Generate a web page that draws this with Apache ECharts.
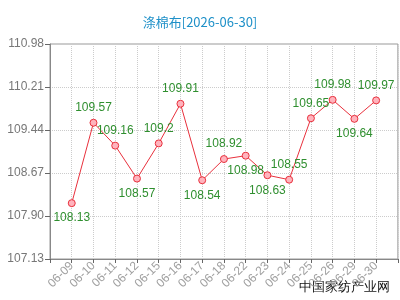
<!DOCTYPE html>
<html>
<head>
<meta charset="utf-8">
<script src="https://cdn.jsdelivr.net/npm/echarts@6/dist/echarts.min.js"></script>
<style>
  html, body { margin: 0; padding: 0; background: #fff; }
  #chart { width: 400px; height: 300px; }
</style>
</head>
<body>
<div id="chart"></div>
<script>
// 日期 / 价格
const dates = ['06-09', '06-10', '06-11', '06-12', '06-15', '06-16', '06-17', '06-18',
  '06-22', '06-23', '06-24', '06-25', '06-26', '06-29', '06-30']
const prices = [108.13, 109.57, 109.16, 108.57, 109.2, 109.91, 108.54, 108.92,
  108.98, 108.63, 108.55, 109.65, 109.98, 109.64, 109.97]
const yTicks = [107.13, 107.90, 108.67, 109.44, 110.21, 110.98]
// 标签在点下方的序号
const below = [0, 3, 6, 8, 9, 13]

const chart = echarts.init(document.getElementById('chart'))

const pts = prices.map((v, i) => ({
  value: [i + 1, v],
  label: { position: below.indexOf(i) >= 0 ? 'bottom' : 'top' }
}))

chart.setOption({
  animation: false,
  title: {
    text: '涤棉布[2026-06-30]',
    left: 'center',
    top: 11,
    textStyle: { color: '#1e90c8', fontSize: 13, fontWeight: 'normal', fontFamily: 'Noto Sans CJK SC' }
  },
  grid: {
    left: 50, right: 2, top: 44, bottom: 41,
    show: true, borderColor: '#999', borderWidth: 1
  },
  xAxis: {
    type: 'value',
    min: 0,
    max: dates.length + 1,
    interval: 1,
    axisLine: { lineStyle: { color: '#888' } },
    axisTick: { show: true, length: 4, lineStyle: { color: '#666' } },
    axisLabel: {
      rotate: 45,
      color: '#a0a0a0',
      fontSize: 12,
      margin: 5,
      fontFamily: 'Liberation Sans',
      formatter: v => dates[v - 1] || ''
    },
    splitLine: { show: true, lineStyle: { color: '#ccc', type: 'dotted' } }
  },
  yAxis: {
    type: 'value',
    min: yTicks[0],
    max: yTicks[yTicks.length - 1],
    interval: 0.77,
    axisLine: { show: true, lineStyle: { color: '#888' } },
    axisTick: { show: true, length: 5, lineStyle: { color: '#666' } },
    axisLabel: {
      color: '#777',
      fontSize: 12,
      margin: 6,
      fontFamily: 'Liberation Sans',
      formatter: v => v.toFixed(2)
    },
    splitLine: { show: true, lineStyle: { color: '#ccc', type: 'dotted' } }
  },
  series: [{
    type: 'line',
    data: pts,
    symbol: 'circle',
    symbolSize: 7,
    lineStyle: { color: '#e8303c', width: 1 },
    itemStyle: { color: '#ffb3bd', borderColor: '#e8303c', borderWidth: 1 },
    label: {
      show: true,
      color: '#2f8f2f',
      fontSize: 12,
      distance: 5,
      fontFamily: 'Liberation Sans',
      formatter: p => String(p.value[1])
    }
  }],
  graphic: [{
    type: 'text',
    right: 10,
    bottom: 6,
    style: { text: '中国家纺产业网', fill: '#111', fontSize: 13, font: '13px "Noto Sans CJK SC"' }
  }]
})
</script>
</body>
</html>
